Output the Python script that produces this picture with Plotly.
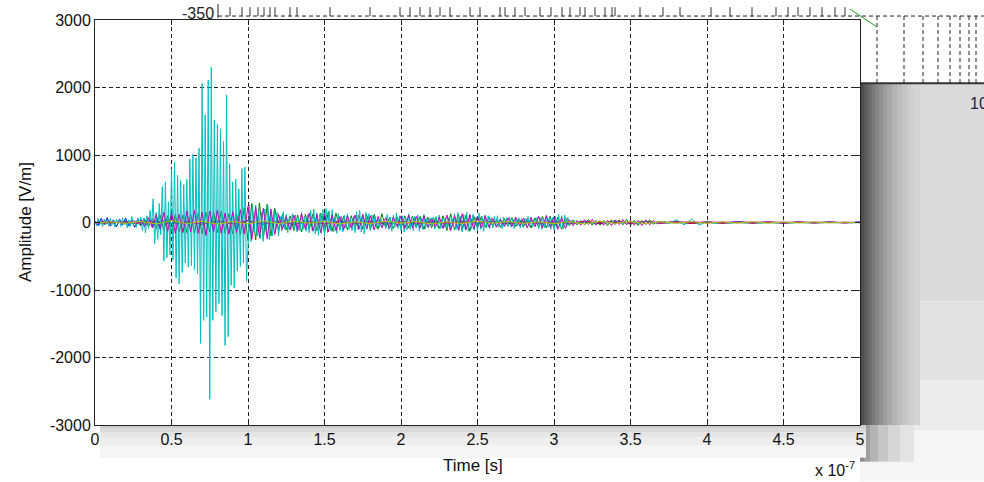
import numpy as np
import plotly.graph_objects as go

# ---------------- data (time in units of 1e-7 s, amplitude in V/m) ----------------
cyan_fine = [
    30, -50, 60, -40, 20, -60, 50, -30, 40, -50,
    60, -40, 30, -70, 50, -20, 40, -60, 70, -30,
    50, -80, 40, -60, 90, -50, 30, -70, 60, -40,
    80, -120, 60, -150, 100, -90, 180, -60, 350, -320,
    150, -250, 280, -180, 530, -570, 600, -520, 300, -480,
    790, -560, 890, -820, 700, -910, 620, -740, 560, -600,
    640, -660, 940, -640, 1010, -700, 960, -760, 1100, -1790,
    2060, -1450, 1600, -1400, 2110, -2620, 2300, -1450, 1520, -1320,
    1450, -1200, 1380, -1380, 1200, -1820, 1890, -1690, 870, -930,
    600, -970, 640, -720, 500, -650, 800, -600, 820, -870,
    -350, 260, -280, 230, -150, 260, -200, 180, -240, 150,
    -280, 200, -150, 240, -260, 130, -200, 180, -120, 150,
    -200, 90, -130, 160, -100, 120, -150, 80, -110, 130,
    -90, 110, -140, 80, -120, 150, -100, 90, -130, 110,
    -150, 180, -120, 200, -170, 140, -190, 130, -160, 190,
    -200, 210, -150, 170, -120, 190, -140, 100, -160, 130,
    -120, 90, -140, 110, -80, 130, -100, 70, -120, 90,
    -150, 160, -110, 180, -140, 120, -170, 150, -100, 130,
    -120, 110, -90, 100, -80, 60, -70, 50, -60, 40,
    -90, 120, -100, 80, -130, 110, -70, 140, -90, 100,
    -120, 100, -140, 90, -110, 130, -100, 80, -120, 90,
    -80, 110, -130, 70, -100, 120, -90, 60, -80, 70,
    -60, 80, -100, 90, -70, 110, -90, 60, -80, 70,
    -90, 70, -110, 80, -60, 130, -100, 150, -120, 90,
    -140, 120, -100, 150, -130, 110, -90, 120, -110, 80,
    -120, 140, -100, 90, -130, 110, -80, 100, -90, 70,
    -80, 90, -60, 100, -70, 60, -90, 80, -50, 70,
    -60, 80, -70, 50, -90, 60, -50, 70, -80, 60,
    -70, 60, -50, 90, -60, 80, -70, 50, -60, 80,
    -90, 70, -100, 60, -80, 110, -70, 90, -100, 70,
    -110, 90, -80, 120, -70, 100, -90, 110, -60, 80,
    -40, 30, -20, 25, -15, 20, -10, 15, -10, 8,
]
cyan_tail = [
    10, -12, 15, -10, 20, -15, 12, -18, 15, -10,
    12, -15, 40, -35, 50, -40, 20, -15, 8, -12,
    10, -8, 6, -10, 8, -6, 5, -8, 6, -5,
    4, -6, 5, -4, 3, -5, 4,
]

magenta_vals = [
    10, -15, 12, -8, 15, -10, 8, -12, 20, -25, 30, -20,
    40, -60, 70, -80, 120, -100, 150, -130, 140, -160, 120, -150,
    170, -140, 180, -160, 150, -190, 170, -140, 180, -160, 140, -170,
    160, -150, 190, -170, 240, -250, 230, -220, 210, -240, 200, -180,
    120, -100, 90, -110, 110, -120, 130, -100, 140, -130, 120, -150,
    130, -140, 110, -120, 90, -110, 100, -80, 110, -100, 120, -90,
    100, -110, 90, -80, 70, -90, 80, -60, 100, -90, 110, -80,
    90, -80, 100, -70, 60, -70, 80, -90, 110, -120, 100, -110,
    130, -110, 120, -100, 90, -80, 100, -70, 60, -70, 50, -60,
    70, -60, 80, -50, 60, -80, 70, -60, 90, -80, 100, -70,
    80, -100, 70, -90, 40, -50, 30, -40, 40, -30, 50, -40,
    30, -40, 35, -45, 40, -30, 45, -35, 35, -40, 30, -45,
    40, -35, 30, -20, 10, -8, 6,
]
magenta_tail = [5, -4, 3, -3, 2]

green_vals = [
    -8, 10, -12, 6, -10, 12, -6, 9, -20, 15, -25, 18,
    -50, 40, -60, 55, -90, 110, -120, 100, -130, 120, -140, 110,
    -150, 130, -160, 140, -170, 150, -140, 160, -150, 170, -160, 130,
    -170, 140, -180, 220, -270, 280, -260, 290, -250, 270, -200, 210,
    -130, 120, -110, 100, -120, 110, -140, 120, -110, 130, -120, 140,
    -150, 160, -130, 140, -100, 90, -110, 100, -90, 110, -100, 120,
    -110, 120, -100, 130, -80, 70, -90, 80, -90, 100, -80, 90,
    -80, 90, -100, 80, -80, 70, -90, 100, -120, 130, -110, 120,
    -120, 110, -130, 100, -80, 90, -70, 80, -60, 50, -70, 60,
    -50, 70, -60, 50, -70, 60, -80, 70, -70, 90, -80, 90,
    -90, 80, -100, 70, -45, 40, -35, 30, -35, 45, -40, 30,
    -40, 30, -45, 40, -30, 40, -35, 45, -40, 35, -45, 30,
    -30, 40, -25, 15, -8, 10, -5,
]
green_tail = [-4, 5, -3, 2, -2]

blue_early = [20, -45, 60, -30, 70, -55, 40, -65, 50, -35,
              65, -50, 30, -70, 55, -40, 60, -25, 45, -60,
              35, -50, 40, -30, 50, -45, 30, -40, 25, -35, 20]
blue_late = [-30, 25, -20, 30, -25, 20, -30, 15, -20, 25,
             -15, 20, -25, 15, -20, 25, -15, 20, -10, 15,
             -20, 15, -10, 20, -15, 10, -15, 20, -10, 15,
             -10, 12, -15, 10, -12, 15, -10, 8, -12, 10,
             -8, 10, -6, 8]

red_vals = [5, -10, 15, -20, 25, -30, 20, -25, 30, -20,
            25, -30, 20, -25, 15, -20, 25, -15, 20, -25,
            15, -20, 10, -15, 20, -10, 15, -20, 10, -15,
            10, -15, 20, -10, 15, -10, 12, -8, 10, -12,
            8, -10, 6, -8, 10, -6, 8, -5, 6, -4, 3]
yellow_vals = [-5, 8, -12, 15, -20, 25, -15, 20, -25, 15,
               -20, 25, -15, 20, -10, 15, -20, 10, -15, 20,
               -10, 15, -20, 10, -15, 20, -10, 15, -12, 10,
               -15, 12, -20, 15, -10, 12, -15, 10, -8, 12,
               -10, 8, -6, 10, -8, 6, -5, 8, -4, 5, -3]

x_ticks = [0, 0.5, 1, 1.5, 2, 2.5, 3, 3.5, 4, 4.5, 5]
x_ticktext = ["0", "0.5", "1", "1.5", "2", "2.5", "3", "3.5", "4", "4.5", "5"]
y_ticks = [-3000, -2000, -1000, 0, 1000, 2000, 3000]
y_ticktext = ["-3000", "-2000", "-1000", "0", "1000", "2000", "3000"]

# ---------------- sample time grids ----------------
t_cyan = np.concatenate([np.arange(len(cyan_fine)) * 0.01,
                         3.2 + np.arange(len(cyan_tail)) * 0.05])
y_cyan = cyan_fine + cyan_tail
t_mg = np.concatenate([np.arange(len(magenta_vals)) * 0.025,
                       4.0 + np.arange(len(magenta_tail)) * 0.25])
y_mag = magenta_vals + magenta_tail
y_grn = green_vals + green_tail
t_blue = np.concatenate([np.arange(len(blue_early)) * 0.02,
                         0.7 + np.arange(len(blue_late)) * 0.1])
y_blue = blue_early + blue_late
t_ry = np.arange(len(red_vals)) * 0.1

fig = go.Figure()
series = [
    (t_blue, y_blue, "#0000FF"),
    (t_mg, y_grn, "#008000"),
    (t_ry, red_vals, "#FF0000"),
    (t_cyan, y_cyan, "#00BFBF"),
    (t_mg, y_mag, "#BF00BF"),
    (t_ry, yellow_vals, "#BFBF00"),
]
for tx, yy, col in series:
    fig.add_trace(go.Scatter(x=tx, y=yy, mode="lines",
                             line=dict(color=col, width=1), showlegend=False,
                             hoverinfo="skip"))

# ---------------- decoration helpers (pixel -> paper) ----------------
L, R, T, B = 95, 860, 16, 425
def X(px):
    return (px - L) / (R - L)
def Y(py):
    return (B - py) / (B - T)

shapes = []
def rect(x0, y0, x1, y1, col, op=1.0):
    shapes.append(dict(type="rect", xref="paper", yref="paper",
                       x0=X(x0), x1=X(x1), y0=Y(y1), y1=Y(y0),
                       fillcolor=col, opacity=op, line=dict(width=0), layer="below"))
def line(x0, y0, x1, y1, col, w=1, dash="solid"):
    shapes.append(dict(type="line", xref="paper", yref="paper",
                       x0=X(x0), x1=X(x1), y0=Y(y0), y1=Y(y1),
                       line=dict(color=col, width=w, dash=dash), layer="below"))

# background window at right (grey panel with gradient shadow)
rect(860, 80, 984, 300, "#dadada")
rect(860, 300, 984, 380, "#e2e2e2")
rect(860, 380, 984, 430, "#ebebeb")
rect(860, 430, 984, 482, "#f5f5f5")
grad = ["#484848", "#505050", "#595959", "#636363", "#6e6e6e", "#797979", "#858585",
        "#919191", "#9d9d9d", "#a8a8a8", "#b3b3b3", "#bdbdbd", "#c6c6c6", "#cecece", "#d4d4d4"]
x_at = 860
for i, c in enumerate(grad):
    w = 2 + i // 3
    rect(x_at, 80, x_at + w, 425, c)
    x_at += w
lgrad = ["#8c8c8c", "#a0a0a0", "#b4b4b4", "#c6c6c6", "#d6d6d6", "#e3e3e3"]
x_at = 860
for i, c in enumerate(lgrad):
    w = 4 + i * 2
    rect(x_at, 425, x_at + w, 462, c)
    x_at += w
# shadow under the plot box
for (y0, y1, c) in [(425, 428, "#cdcdcd"), (428, 432, "#dadada"), (432, 438, "#e5e5e5"),
                    (438, 446, "#eeeeee"), (446, 458, "#f5f5f5")]:
    rect(100, y0, 866, y1, c)
# border of background window
line(860, 80, 984, 80, "#333333", 2)
# background window grid (top)
line(218, 12, 984, 12, "#222222", 1, "4px,3px")
line(218, 0, 218, 14, "#222222", 1)
for gx in [877, 904, 923, 938, 950, 960, 969, 976]:
    line(gx, 12, gx, 80, "#222222", 1, "4px,3px")
for gx in [230, 242, 250, 258, 264, 270, 275, 290, 297, 330, 370, 400, 410, 420, 430, 440, 450, 470, 480,
           500, 505, 515, 525, 540, 551, 562, 570, 580, 585, 595, 605, 612, 615, 640, 663, 680, 711, 730,
           752, 776, 788, 798, 810, 822, 835, 845]:
    line(gx, 3, gx, 12, "#333333", 1)
line(850, 5, 877, 23, "#1a9a1a", 1)

fig.update_layout(
    width=984, height=482,
    margin=dict(l=L, r=984 - R, t=T, b=482 - B),
    paper_bgcolor="white", plot_bgcolor="white",
    font=dict(family="Liberation Sans, Arial, sans-serif", color="#111111"),
    shapes=shapes,
    annotations=[
        dict(text="Amplitude [V/m]", xref="paper", yref="paper", x=X(25), y=Y(220),
             textangle=-90, showarrow=False, font=dict(size=17, color="#111111"),
             xanchor="center", yanchor="middle"),
        dict(text="Time [s]", xref="paper", yref="paper", x=X(473), y=Y(466),
             showarrow=False, font=dict(size=17, color="#111111"),
             xanchor="center", yanchor="middle"),
        dict(text="x 10<sup>-7</sup>", xref="paper", yref="paper", x=X(835), y=Y(469),
             showarrow=False, font=dict(size=16, color="#111111"),
             xanchor="center", yanchor="middle"),
        dict(text="-350", xref="paper", yref="paper", x=X(198), y=Y(9),
             showarrow=False, font=dict(size=16, color="#222222"),
             xanchor="center", yanchor="middle"),
        dict(text="10", xref="paper", yref="paper", x=X(968), y=Y(100),
             showarrow=False, font=dict(size=16, color="#222244"),
             xanchor="left", yanchor="middle"),
    ],
)
fig.update_xaxes(range=[0, 5], tickvals=x_ticks, ticktext=x_ticktext,
                 ticks="inside", ticklen=5, tickcolor="#222222",
                 showline=True, linecolor="#222222", linewidth=1, mirror="allticks",
                 showgrid=True, gridcolor="#222222", gridwidth=1, griddash="4px,3px",
                 zeroline=False, tickfont=dict(size=16, color="#111111"))
fig.update_yaxes(range=[-3000, 3000], tickvals=y_ticks, ticktext=y_ticktext,
                 ticks="inside", ticklen=5, tickcolor="#222222",
                 showline=True, linecolor="#222222", linewidth=1, mirror="allticks",
                 showgrid=True, gridcolor="#222222", gridwidth=1, griddash="4px,3px",
                 zeroline=False, tickfont=dict(size=16, color="#111111"))

fig.write_html("out.html", config={"displayModeBar": False},
               post_script="document.body.style.margin='0';document.body.style.overflow='hidden';")
